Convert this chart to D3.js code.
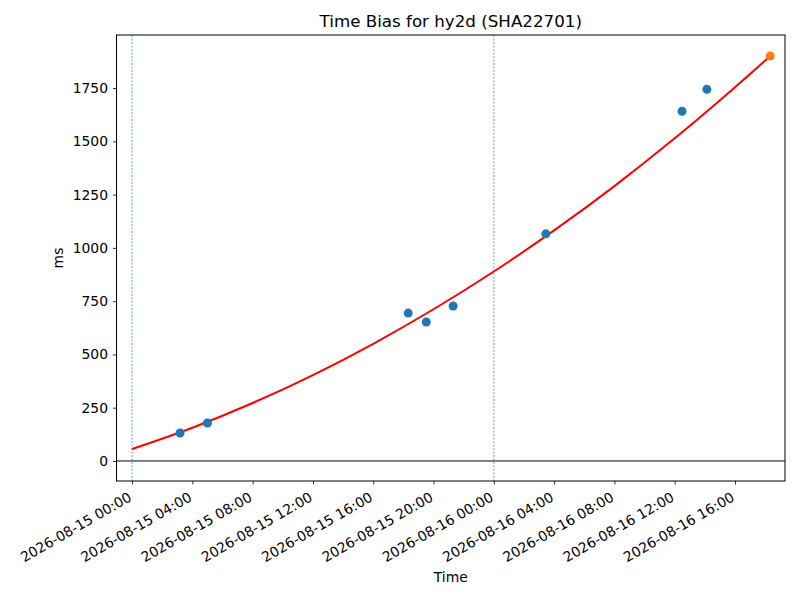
<!DOCTYPE html>
<html>
    <head>
        <script src="https://d3js.org/d3.v7.min.js"></script>
        <style>
          body { margin: 0; background: #ffffff; }
          #chart { width: 800px; height: 600px; }
          text { font-family: "DejaVu Sans", sans-serif; fill: #000; }
      </style>
    </head>
    <body>
        <div id="chart"></div>
        <script>

            /* DATA */
            var pointTimes = ["2026-08-15 03:11", "2026-08-15 05:00", "2026-08-15 18:19",
                              "2026-08-15 19:31", "2026-08-15 21:18", "2026-08-16 03:27",
                              "2026-08-16 12:29", "2026-08-16 14:08"];
            var pointValues = [131, 178, 694, 652, 727, 1066, 1641, 1744];

            var lastTime = "2026-08-16 18:20";
            var lastValue = 1900;

            var fitTimes = ["2026-08-15 00:00", "2026-08-15 04:00", "2026-08-15 08:00",
                            "2026-08-15 12:00", "2026-08-15 16:00", "2026-08-15 20:00",
                            "2026-08-16 00:00", "2026-08-16 04:00", "2026-08-16 08:00",
                            "2026-08-16 12:00", "2026-08-16 16:00", "2026-08-16 18:20"];
            var fitValues = [56, 156, 272, 403, 550, 712, 889, 1082, 1290, 1514, 1754, 1900];

            var dayMarks = ["2026-08-15 00:00", "2026-08-16 00:00"];
            var yTicks = [0, 250, 500, 750, 1000, 1250, 1500, 1750];
            var xDomain = ["2026-08-14 22:58", "2026-08-16 19:19"];
            var yDomain = [-94, 1999];

            var parse = d3.timeParse("%Y-%m-%d %H:%M");

            /* DIMENSIONS */
            var width = 800, height = 600;
            var margin = {top: 35, right: 15, bottom: 119, left: 116.5};

            var svg = d3.select("#chart")
                .append("svg")
                .attr("width", width)
                .attr("height", height);

            var x = d3.scaleTime()
                .domain(xDomain.map(parse))
                .range([margin.left, width - margin.right]);

            var y = d3.scaleLinear()
                .domain(yDomain)
                .range([height - margin.bottom, margin.top]);

            /* DAY MARKER LINES */
            svg.append("g")
                .selectAll("line")
                .data(dayMarks)
                .enter()
                .append("line")
                    .attr("x1", function(d) { return x(parse(d)); })
                    .attr("x2", function(d) { return x(parse(d)); })
                    .attr("y1", margin.top)
                    .attr("y2", height - margin.bottom)
                    .attr("stroke", "#1f77b4")
                    .attr("stroke-width", 0.7)
                    .attr("stroke-dasharray", "2,1.5");

            /* ZERO LINE */
            svg.append("line")
                .attr("x1", margin.left)
                .attr("x2", width - margin.right)
                .attr("y1", y(0))
                .attr("y2", y(0))
                .attr("stroke", "#000")
                .attr("stroke-width", 1);

            /* FIT CURVE */
            var fit = fitTimes.map(function(t, i) { return [parse(t), fitValues[i]]; });
            svg.append("path")
                .datum(fit)
                .attr("fill", "none")
                .attr("stroke", "red")
                .attr("stroke-width", 2)
                .attr("d", d3.line()
                    .x(function(d) { return x(d[0]); })
                    .y(function(d) { return y(d[1]); })
                    .curve(d3.curveMonotoneX));

            /* POINTS */
            svg.append("g")
                .selectAll("circle")
                .data(pointTimes)
                .enter()
                .append("circle")
                    .attr("cx", function(d) { return x(parse(d)); })
                    .attr("cy", function(d, i) { return y(pointValues[i]); })
                    .attr("r", 4.5)
                    .attr("fill", "#1f77b4");

            svg.append("circle")
                .attr("cx", x(parse(lastTime)))
                .attr("cy", y(lastValue))
                .attr("r", 4.5)
                .attr("fill", "#ff7f0e");

            /* AXES */
            var xTicks = d3.timeHour.every(4).range(parse("2026-08-15 00:00"), parse("2026-08-16 18:00"));
            var xAxis = svg.append("g")
                .attr("transform", "translate(0," + (height - margin.bottom) + ")")
                .call(d3.axisBottom(x)
                    .tickValues(xTicks)
                    .tickFormat(d3.timeFormat("%Y-%m-%d %H:%M"))
                    .tickSize(3.5)
                    .tickSizeOuter(0));
            xAxis.selectAll("text")
                .style("font-size", "13.9px")
                .attr("text-anchor", "end")
                .attr("dy", null)
                .attr("y", 0)
                .attr("transform", "translate(0,19) rotate(-30)");

            var yAxis = svg.append("g")
                .attr("transform", "translate(" + margin.left + ",0)")
                .call(d3.axisLeft(y)
                    .tickValues(yTicks)
                    .tickFormat(d3.format("d"))
                    .tickSize(3.5)
                    .tickPadding(5)
                    .tickSizeOuter(0));
            yAxis.selectAll("text").style("font-size", "13.9px");

            svg.selectAll(".domain").remove();
            svg.selectAll(".tick line").attr("stroke", "#000").attr("stroke-width", 0.8);

            /* FRAME */
            svg.append("rect")
                .attr("x", margin.left)
                .attr("y", margin.top)
                .attr("width", width - margin.left - margin.right)
                .attr("height", height - margin.top - margin.bottom)
                .attr("fill", "none")
                .attr("stroke", "#000")
                .attr("stroke-width", 1);

            /* LABELS */
            svg.append("text")
                .attr("x", (margin.left + width - margin.right) / 2)
                .attr("y", 27)
                .attr("text-anchor", "middle")
                .style("font-size", "16.7px")
                .text("Time Bias for hy2d (SHA22701)");

            svg.append("text")
                .attr("x", (margin.left + width - margin.right) / 2)
                .attr("y", 582)
                .attr("text-anchor", "middle")
                .style("font-size", "13.9px")
                .text("Time");

            svg.append("text")
                .attr("transform", "translate(63," + ((margin.top + height - margin.bottom) / 2) + ") rotate(-90)")
                .attr("text-anchor", "middle")
                .style("font-size", "13.9px")
                .text("ms");

        </script>
    </body>
</html>
